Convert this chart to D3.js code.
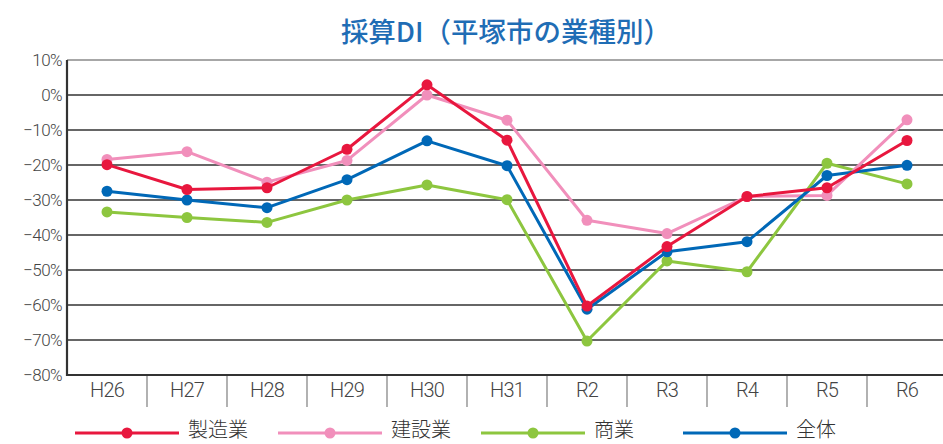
<!DOCTYPE html>
<html><head><meta charset="utf-8">
<script src="https://cdn.jsdelivr.net/npm/d3@7/dist/d3.min.js"></script>
<style>body{margin:0;background:#fff}svg{display:block}</style>
</head><body><svg id="c" width="943" height="444"></svg>
<script>
const categories = ["H26","H27","H28","H29","H30","H31","R2","R3","R4","R5","R6"];
const manufacturing = [-19.9,-27.0,-26.5,-15.5,2.9,-12.9,-60.3,-43.3,-29.0,-26.5,-13.0];
const construction  = [-18.4,-16.2,-24.9,-18.7,0.0,-7.2,-35.8,-39.6,-29.0,-28.7,-7.1];
const commerce      = [-33.4,-35.0,-36.4,-30.0,-25.7,-29.9,-70.3,-47.4,-50.5,-19.5,-25.4];
const total         = [-27.5,-30.0,-32.2,-24.2,-13.1,-20.2,-61.2,-44.8,-41.9,-23.0,-20.1];
const yTicks = [10,0,-10,-20,-30,-40,-50,-60,-70,-80];
const seriesNames = ["製造業","建設業","商業","全体"];
const title = "採算DI（平塚市の業種別）";

const colors = {"製造業":"#e8173e","建設業":"#f18fbb","商業":"#8dc63f","全体":"#0068b7"};
const dataBy = {"製造業":manufacturing,"建設業":construction,"商業":commerce,"全体":total};

const svg = d3.select("#c");
const L = 67, R = 947, T = 60, B = 375;
const x = d3.scaleBand().domain(categories).range([L, R]);
const y = d3.scaleLinear().domain([-80, 10]).range([B, T]);
const font = "Roboto,'Liberation Sans',Arial,sans-serif";

svg.append("text").attr("x", 506).attr("y", 42).attr("text-anchor","middle")
  .attr("font-family","'Noto Sans CJK JP',sans-serif").attr("font-weight",500)
  .attr("font-size",27.5).attr("fill","#1f6db5").text(title);

// gridlines
const gy = svg.append("g");
yTicks.forEach(t => {
  if (t === -80) return;
  gy.append("line").attr("x1", L).attr("x2", 943).attr("y1", y(t)).attr("y2", y(t))
    .attr("stroke", t === 10 ? "#8a8a8a" : "#333").attr("stroke-width", t===10?1.6:1.3);
});
// y axis labels
const yAxis = d3.axisLeft(y).tickValues(yTicks).tickSize(0).tickPadding(5)
  .tickFormat(d => (d < 0 ? "−" + Math.abs(d) : d) + "%");
const ya = svg.append("g").attr("transform", `translate(${L},0)`).call(yAxis);
ya.select(".domain").remove();
ya.selectAll("text").attr("font-family", font).attr("font-weight",300).attr("font-size", 17)
  .attr("letter-spacing", -0.6).attr("fill","#444");

// x axis
const xa = svg.append("g").attr("transform", `translate(0,${B})`)
  .call(d3.axisBottom(x).tickSize(0).tickPadding(8));
xa.select(".domain").remove();
xa.selectAll("text").attr("font-family", font).attr("font-weight",300).attr("font-size", 20)
  .attr("letter-spacing", -0.8).attr("fill","#444");
categories.slice(1).forEach(c => {
  svg.append("line").attr("x1", x(c)).attr("x2", x(c)).attr("y1", B).attr("y2", 407)
    .attr("stroke","#888").attr("stroke-width",1.3);
});
// axes lines
svg.append("line").attr("x1", L).attr("x2", L).attr("y1", T).attr("y2", B+1).attr("stroke","#333").attr("stroke-width",2.2);
svg.append("line").attr("x1", L-1).attr("x2", 943).attr("y1", B).attr("y2", B).attr("stroke","#333").attr("stroke-width",2.2);

// series
const order = ["商業","建設業","全体","製造業"];
const line = d3.line().x((d,i) => x(categories[i]) + x.bandwidth()/2).y(d => y(d));
order.forEach(n => {
  const g = svg.append("g");
  g.append("path").attr("d", line(dataBy[n])).attr("fill","none")
    .attr("stroke", colors[n]).attr("stroke-width", 3).attr("stroke-linejoin","round");
  g.selectAll("circle").data(dataBy[n]).enter().append("circle")
    .attr("cx", (d,i) => x(categories[i]) + x.bandwidth()/2).attr("cy", d => y(d))
    .attr("r", 5.5).attr("fill", colors[n]);
});

// legend
const legX = [75, 278, 481, 683];
seriesNames.forEach((n,i) => {
  const g = svg.append("g").attr("transform", `translate(${legX[i]},433)`);
  g.append("line").attr("x1",0).attr("x2",104).attr("stroke",colors[n]).attr("stroke-width",3);
  g.append("circle").attr("cx",52).attr("r",5.5).attr("fill",colors[n]);
  g.append("text").attr("x",113).attr("y",4).attr("font-family","'Noto Sans CJK JP',sans-serif")
    .attr("font-weight",300).attr("font-size",20).attr("fill","#333").text(n);
});
</script></body></html>
